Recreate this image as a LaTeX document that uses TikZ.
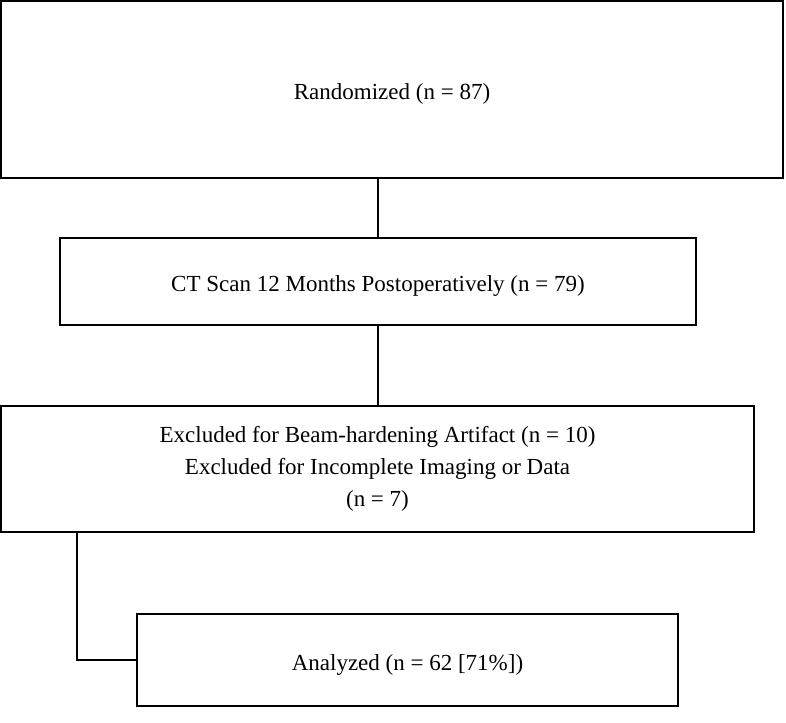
\documentclass[tikz,border=0pt]{standalone}
\usepackage{fontspec}
\setmainfont{Liberation Serif}
\usetikzlibrary{
  positioning,
  calc,
}
\tikzstyle{box} = [
  rectangle,
  draw,
  line width=0.8pt,
  inner sep=0pt,
  align=center,
  font=\fontsize{11.5}{16}\selectfont,
]
\tikzstyle{onebox} = [
  box,
  text height=10pt,
  text depth=0pt,
]
\tikzstyle{link} = [
  line width=0.7pt,
]

\begin{document}
\begin{tikzpicture}[x=0.5pt,y=-0.5pt]

        \useasboundingbox (0,0) rectangle (786,722);

        \node[onebox,minimum width=391pt,minimum height=88.5pt] (randomized) at (392,89.5) {Randomized (n = 87)};
        \node[onebox,minimum width=318pt,minimum height=43.5pt] (ctscan) at (378,281.5) {CT Scan 12 Months Postoperatively (n = 79)};
        \node[box,minimum width=376.5pt,minimum height=63pt] (excluded) at (377.5,469) {Excluded for Beam-hardening Artifact (n = 10)\\Excluded for Incomplete Imaging or Data\\(n = 7)};
        \node[onebox,minimum width=270.5pt,minimum height=46pt] (analyzed) at (407.5,660) {Analyzed (n = 62 [71\%])};

        \coordinate (elbow) at (77,532);

        \draw[link] (ctscan.north |- randomized.south) -- (ctscan.north);
        \draw[link] (ctscan.south) -- (ctscan.south |- excluded.north);
        \draw[link] (elbow) |- (analyzed.west);

      \end{tikzpicture}
\end{document}
